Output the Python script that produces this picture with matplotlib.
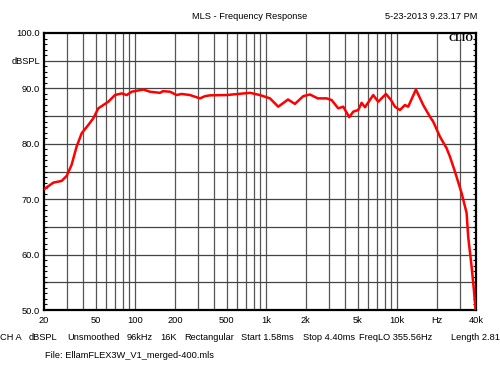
import numpy as np
import matplotlib
matplotlib.use("Agg")
import matplotlib.pyplot as plt
from matplotlib.ticker import FixedLocator, NullFormatter

plt.rcParams['font.family'] = ['Liberation Sans', 'DejaVu Sans']

# frequency response
freq_hz = [20, 23.6, 27.3, 29.8, 32.5, 35.5, 38.8, 43.6, 47.6, 52, 56.8, 62, 69.7, 78.5,
           85.7, 93.5, 115, 129, 154, 162, 184, 206, 225, 261, 285, 311, 340, 371, 497,
           750, 894, 1066, 1233, 1390, 1464, 1654, 1914, 2154, 2470, 2888, 3155, 3542,
           3870, 4299, 4614, 5036, 5348, 5669, 6558, 7158, 8203, 8906, 9604, 10486,
           11452, 12134, 13896, 15800, 17778, 18838, 21200, 23845, 25260, 27600, 31050,
           33910, 34870, 37030, 38550, 39720]
level_db = [71.8, 73.0, 73.3, 74.2, 76.2, 79.5, 81.9, 83.4, 84.6, 86.4, 87.0, 87.6, 88.8, 89.1,
            88.8, 89.4, 89.8, 89.4, 89.2, 89.5, 89.4, 88.8, 89.0, 88.8, 88.5, 88.2, 88.6, 88.75, 88.8,
            89.2, 88.8, 88.2, 86.7, 87.6, 88.0, 87.2, 88.6, 88.9, 88.2, 88.2, 87.9, 86.4,
            86.7, 84.8, 85.8, 86.1, 87.4, 86.6, 88.8, 87.6, 89.0, 88.0, 86.7, 86.1,
            87.0, 86.7, 89.8, 87.0, 84.9, 84.0, 81.3, 79.2, 77.7, 75.0, 71.1,
            67.5, 63.2, 57.8, 53.6, 50.0]

x_grid = [30, 40, 50, 60, 70, 80, 90, 100, 200, 300, 400, 500, 600, 700, 800, 900,
          1000, 2000, 3000, 4000, 5000, 6000, 7000, 8000, 9000, 10000, 20000, 30000]
x_tick_pos = [20, 50, 100, 200, 500, 1000, 2000, 5000, 10000, 20000, 40000]
x_tick_lbl = ['20', '50', '100', '200', '500', '1k', '2k', '5k', '10k', 'Hz', '40k']
y_tick_pos = [50, 60, 70, 80, 90, 95, 100]
y_tick_lbl = ['50.0', '60.0', '70.0', '80.0', '90.0', 'dBSPL', '100.0']

# measurement settings line (text, left edge in pixels)
info_items = ['CH A', 'dBSPL', 'Unsmoothed', '96kHz', '16K', 'Rectangular',
              'Start 1.58ms', 'Stop 4.40ms', 'FreqLO 355.56Hz', 'Length 2.81']
info_x_px = [0, 29, 67, 127, 160, 184, 241, 303, 359, 451]

fs = 6.7

fig = plt.figure(figsize=(5, 3.75), dpi=100)
ax = fig.add_axes([0.088, 0.1733, 0.864, 0.7387])
ax.set_xscale('log')
ax.set_xlim(20, 40000)
ax.set_ylim(50, 100)

for xv in x_grid:
    ax.axvline(xv, color='#555555', lw=0.9, zorder=1)
for yv in np.arange(55, 100, 5):
    ax.axhline(yv, color='#444444', lw=0.9, zorder=1)

ax.plot(freq_hz, level_db, color='#ff0000', lw=1.8, zorder=3)

ax.xaxis.set_major_locator(FixedLocator(x_tick_pos))
ax.set_xticklabels(x_tick_lbl)
ax.xaxis.set_minor_formatter(NullFormatter())
ax.xaxis.set_minor_locator(FixedLocator([]))
ax.tick_params(axis='x', which='both', length=0, pad=4, labelsize=fs)

ax.yaxis.set_major_locator(FixedLocator(y_tick_pos))
ax.set_yticklabels(y_tick_lbl)
ax.yaxis.set_minor_locator(FixedLocator(np.arange(51, 100, 1)))
ax.tick_params(axis='y', which='major', length=0, pad=3, labelsize=fs)
ax.tick_params(axis='y', which='minor', direction='in', length=2.5, width=0.8,
               left=True, right=True, color='black')

for sp in ax.spines.values():
    sp.set_linewidth(1.6)
    sp.set_color('black')

ax.text(0.995, 0.995, 'CLIO', transform=ax.transAxes, ha='right', va='top',
        fontsize=7, fontweight='bold', family='Liberation Serif', zorder=5)

fig.text(0.5, 0.957, 'MLS - Frequency Response', ha='center', va='center', fontsize=fs)
fig.text(0.954, 0.957, '5-23-2013 9.23.17 PM', ha='right', va='center', fontsize=fs)
for label, xpx in zip(info_items, info_x_px):
    fig.text(xpx / 500, 0.0995, label, ha='left', va='center', fontsize=fs)
fig.text(0.09, 0.053, 'File: EllamFLEX3W_V1_merged-400.mls', ha='left', va='center', fontsize=fs)

fig.savefig('out.png', dpi=100, facecolor='white')
